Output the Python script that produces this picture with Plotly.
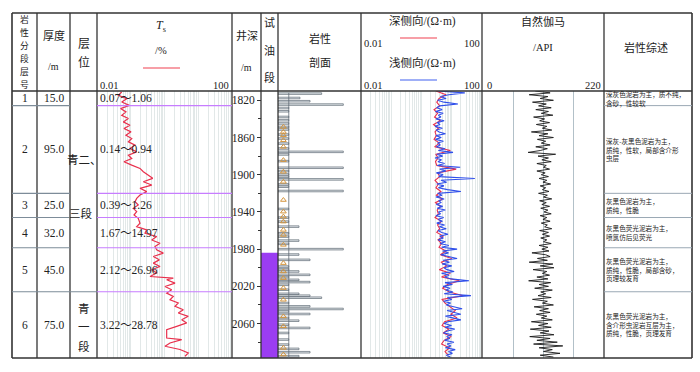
import plotly.graph_objects as go

W, H = 700, 372


def X(px):
    return px / W


def Y(py):
    return 1 - py / H


CJK = "Noto Sans CJK SC"
SERIF = "Liberation Serif, Noto Sans CJK SC"
DARK = "#333333"

# ---------------- data ----------------
layer_no = ["1", "2", "3", "4", "5", "6"]
thickness = ["15.0", "95.0", "25.0", "32.0", "45.0", "75.0"]
layer_bounds = [1810, 1825.7, 1920, 1946, 1978.5, 2025.8, 2097]
ts_range = ["0.07～1.06", "0.14～0.94", "0.39～1.26",
            "1.67～14.97", "2.12～26.96", "3.22～28.78"]
descriptions = [
    ["深灰色泥岩为主，质不纯，", "含砂，性较软"],
    ["深灰-灰黑色泥岩为主，", "质纯，性软，局部含介形", "虫层"],
    ["灰黑色泥岩为主，", "质纯，性脆"],
    ["灰黑色荧光泥岩为主，", "喷氯仿后见荧光"],
    ["灰黑色荧光泥岩为主，", "质纯，性脆，局部含砂，", "页理较发育"],
    ["灰黑色荧光泥岩为主，", "含介形虫泥岩互层为主，", "质纯，性脆，页理发育"],
]
depth_top, depth_bottom = 1810, 2097
depth_ticks = [1820, 1860, 1900, 1940, 1980, 2020, 2060]
test_top, test_bottom = 1984, 2097

# Ts (%)
ts_depth = [1811.1, 1814.6, 1818.2, 1821.8, 1825.4, 1828.9, 1832.5, 1836.1, 1839.6, 1843.2,
            1846.8, 1850.4, 1853.9, 1857.5, 1861.1, 1864.6, 1868.2, 1871.8, 1875.4, 1878.9,
            1882.5, 1886.1, 1889.7, 1893.2, 1896.8, 1900.4, 1903.9, 1907.5, 1911.1, 1914.6,
            1918.2, 1921.8, 1925.4, 1929.0, 1932.5, 1936.1, 1939.7, 1943.3, 1946.8, 1952.2,
            1955.8, 1959.3, 1962.9, 1966.5, 1970.1, 1973.6, 1977.2, 1980.8, 1984.3, 1987.9,
            1991.5, 1995.0, 1998.6, 2002.2, 2005.7, 2009.4, 2011.1, 2012.9, 2016.5, 2020.1,
            2023.6, 2027.2, 2030.8, 2034.4, 2037.9, 2041.5, 2045.1, 2048.6, 2052.2, 2055.8,
            2059.3, 2063.0, 2066.5, 2071.9, 2075.5, 2077.2, 2080.8, 2084.4, 2087.9, 2091.5,
            2095.1]
ts_value = [0.054, 0.043, 0.076, 0.054, 0.091, 0.050, 0.072, 0.054, 0.085, 0.060,
            0.095, 0.063, 0.102, 0.072, 0.107, 0.085, 0.134, 0.095, 0.150, 0.085,
            0.107, 0.063, 0.107, 0.188, 0.236, 0.331, 0.447, 0.236, 0.418, 0.188,
            0.297, 0.188, 0.150, 0.134, 0.167, 0.119, 0.150, 0.125, 0.167, 0.188,
            0.150, 0.297, 0.264, 0.587, 0.418, 0.736, 0.523, 0.587, 0.921, 0.466,
            0.701, 0.466, 0.736, 0.418, 0.587, 0.372, 1.82, 1.16, 2.05, 1.035,
            1.63, 1.16, 1.82, 1.455, 2.56, 2.05, 3.61, 2.56, 5.07, 3.23,
            4.55, 2.30, 1.16, 1.16, 1.16, 3.23, 1.455, 1.035, 2.88, 5.07,
            4.05]

# sampling depths of the logs (m)
log_depth = list(range(1810, 2098, 2))
deep_depth = list(range(1810, 2098, 4))

# shallow laterolog (ohm.m)
rs_shallow = [3.5, 27, 8, 4.2, 6.5, 3.4, 5.5, 16, 4.0, 3.2,
              4.8, 2.9, 5.2, 3.6, 4.4, 3.0, 5.6, 3.3, 4.1, 2.8,
              4.9, 3.1, 3.8, 6.2, 3.0, 4.5, 2.9, 5.3, 3.4, 4.2,
              3.1, 6.0, 3.6, 11, 3.2, 5.0, 2.8, 4.6, 3.5, 5.8,
              3.3, 19, 4.0, 6.4, 3.1, 5.2, 3.7, 58, 4.4, 6.8,
              3.2, 5.5, 3.6, 7.2, 20, 3.4, 4.8, 3.0, 5.6, 3.8,
              4.4, 3.1, 5.0, 3.3, 6.1, 3.7, 4.2, 3.0, 5.4, 3.6,
              4.9, 3.2, 5.8, 3.9, 6.6, 3.5, 4.7, 7.5, 4.0, 5.3,
              3.6, 6.2, 4.1, 8.0, 4.6, 15, 5.0, 7.8, 4.4, 9.0,
              15, 5.2, 8.4, 4.8, 10, 5.5, 7.0, 12, 4.6, 8.2,
              5.8, 9.5, 37, 6.0, 10.5, 5.2, 8.8, 6.4, 11, 5.6,
              43, 7.2, 10, 5.4, 9.2, 6.6, 12, 22, 7.0, 10.8,
              20, 6.2, 11.5, 20, 7.4, 5.6, 9.8, 6.0, 12.5, 7.2,
              5.4, 10.2, 6.8, 8.6, 5.8, 11.8, 7.0, 9.4, 6.2, 13,
              7.8, 10.5, 6.6, 9.0]

# deep laterolog (ohm.m)
rd_deep = [3.0, 6.5, 3.8, 3.2, 4.0, 2.6, 3.4, 2.7, 4.2, 2.5,
           3.6, 2.8, 3.1, 2.6, 3.9, 2.7, 9, 3.0, 3.5, 2.9,
           3.2, 14, 3.4, 4.0, 2.8, 3.6, 3.0, 4.4, 3.1, 5.0,
           2.9, 4.2, 3.3, 3.6, 2.8, 4.6, 3.4, 4.0, 3.2, 5.2,
           3.5, 4.6, 3.8, 6.5, 4.2, 10, 4.4, 6.8, 3.9, 9.0,
           4.6, 18, 7.2, 5.0, 8.4, 24, 4.8, 6.0, 8.8, 13,
           9.4, 15, 5.8, 4.8, 8.0, 5.2, 9.6, 5.6, 4.6, 8.4,
           6.0, 7.6]

# natural gamma (API)
gr_value = [95, 122, 84, 118, 104, 128, 90, 115, 101, 124,
            96, 119, 106, 127, 92, 112, 103, 121, 97, 116,
            108, 125, 88, 118, 102, 128, 99, 114, 106, 122,
            96, 117, 104, 82, 132, 100, 119, 107, 124, 98,
            115, 110, 121, 98, 113, 106, 119, 102, 116, 109,
            123, 104, 114, 108, 120, 101, 117, 110, 125, 103,
            115, 107, 121, 105, 118, 111, 124, 104, 116, 109,
            122, 106, 117, 112, 125, 103, 119, 108, 121, 105,
            116, 110, 124, 102, 118, 107, 120, 89, 114, 122,
            99, 117, 84, 127, 104, 129, 91, 116, 108, 121,
            98, 118, 83, 123, 102, 119, 94, 126, 105, 114,
            100, 124, 90, 117, 108, 128, 93, 119, 103, 122,
            97, 116, 106, 126, 88, 118, 101, 124, 86, 120,
            104, 129, 85, 122, 98, 135, 92, 145, 102, 126,
            110, 140, 104, 128]

# lithology column: interlayer bars (depth, relative length)
lith_depth = [1812.8, 1817.5, 1821.0, 1824.6, 1875.4, 1892.5, 1905.0, 1917.5,
              1955.8, 1970.8, 1980.0, 1985.8, 1991.5, 2004.0, 2007.6, 2013.0,
              2015.4, 2028.0, 2030.0, 2032.2, 2041.5, 2044.3, 2049.7, 2056.9,
              2064.7, 2087.2, 2090.8, 2095.0,
              1828.3, 1831.8, 1837.9, 1841.4, 1844.9, 1848.6, 1851.4, 1856.8,
              1861.1, 1866.5, 1871.8, 1878.2, 1885.4, 1896.1, 1899.7, 1902.2,
              1910.4, 1912.9, 1936.8, 1946.1, 1950.4, 1962.9, 1966.5, 1974.3,
              1998.7, 2001.5, 2010.0, 2018.3, 2023.6, 2037.9, 2046.9, 2054.0,
              2061.2, 2070.1, 2077.2, 2082.6]
lith_len = [0.526, 0.265, 0.386, 0.787, 0.787, 0.787, 0.787, 0.787,
            0.253, 0.253, 0.787, 0.253, 0.386, 0.253, 0.386, 0.253,
            0.386, 0.253, 0.386, 0.526, 0.386, 0.787, 0.386, 0.253,
            0.386, 0.253, 0.386, 0.253,
            0.13, 0.13, 0.13, 0.13, 0.13, 0.13, 0.13, 0.13,
            0.13, 0.13, 0.13, 0.13, 0.13, 0.13, 0.13, 0.13,
            0.13, 0.13, 0.13, 0.13, 0.13, 0.13, 0.13, 0.13,
            0.13, 0.13, 0.13, 0.13, 0.13, 0.13, 0.13, 0.13,
            0.13, 0.13, 0.13, 0.13]
# ostracod symbols in the lithology strip
ostracod_depth = [1848.6, 1854.0, 1857.5, 1862.9, 1870.0, 1884.3, 1896.8, 1907.6,
                  1927.2, 1939.7, 1945.0, 1950.4, 1959.3, 1964.7, 1975.4, 1995.0,
                  2004.0, 2011.1, 2021.8, 2034.4, 2052.3, 2063.0, 2086.1, 2093.3]

# ---------------- figure ----------------
fig = go.Figure()

fig.add_trace(go.Scatter(x=ts_value, y=ts_depth, xaxis="x", yaxis="y", mode="lines",
                         line=dict(color="#e8304c", width=1.2), hoverinfo="skip"))

fig.add_trace(go.Bar(x=[1], y=[(test_top + test_bottom) / 2], width=[test_bottom - test_top],
                     base=0, orientation="h", xaxis="x3", yaxis="y",
                     marker=dict(color="#9b3df2", line=dict(width=0)), hoverinfo="skip"))

fig.add_trace(go.Bar(x=lith_len, y=lith_depth, width=1.7, base=0, orientation="h",
                     xaxis="x4", yaxis="y",
                     marker=dict(color="#e4e8ec", line=dict(color="#5f6a74", width=0.7)),
                     hoverinfo="skip"))

fig.add_trace(go.Scatter(x=[0.065] * len(ostracod_depth), y=ostracod_depth, xaxis="x4", yaxis="y",
                         mode="markers",
                         marker=dict(symbol="triangle-up-open", size=5, color="#d4953e",
                                     line=dict(width=1, color="#d4953e")),
                         hoverinfo="skip"))

fig.add_trace(go.Scatter(x=rd_deep, y=deep_depth, xaxis="x5", yaxis="y", mode="lines",
                         line=dict(color="#e8304c", width=1.1), hoverinfo="skip"))
fig.add_trace(go.Scatter(x=rs_shallow, y=log_depth, xaxis="x5", yaxis="y", mode="lines",
                         line=dict(color="#2f4fea", width=1.1), hoverinfo="skip"))

fig.add_trace(go.Scatter(x=gr_value, y=log_depth, xaxis="x6", yaxis="y", mode="lines",
                         line=dict(color="#1a1a1a", width=0.9), hoverinfo="skip"))

hidden = dict(showticklabels=False, ticks="", showline=False, zeroline=False)
loggrid = dict(type="log", range=[-2, 2], dtick="D1", showgrid=True,
               gridcolor="#d5dede", gridwidth=0.7, **hidden)

fig.update_layout(
    width=W, height=H, margin=dict(l=0, r=0, t=0, b=0),
    paper_bgcolor="white", plot_bgcolor="white", showlegend=False,
    barmode="overlay", hovermode=False,
    xaxis=dict(domain=[X(97), X(232)], **loggrid),
    xaxis3=dict(domain=[X(261), X(278)], range=[0, 1], showgrid=False, **hidden),
    xaxis4=dict(domain=[X(278), X(361)], range=[0, 1], showgrid=False, **hidden),
    xaxis5=dict(domain=[X(361), X(482)], **loggrid),
    xaxis6=dict(domain=[X(483), X(604)], range=[0, 220], dtick=55, showgrid=True,
                gridcolor="#9fb0ba", gridwidth=0.8, **hidden),
    yaxis=dict(domain=[Y(358), Y(91)], range=[depth_bottom, depth_top],
               anchor="free", position=X(261), side="left",
               tickvals=depth_ticks, ticks="outside", ticklen=4, tickcolor=DARK,
               minor=dict(dtick=20, tick0=1820, ticks="outside", ticklen=3, tickcolor=DARK),
               showgrid=False, zeroline=False, showline=False,
               tickfont=dict(family=SERIF, size=11.5, color="#222")),
)

# ---------------- table frame ----------------
shapes = []


def pline(x0, y0, x1, y1, color=DARK, width=1.3):
    shapes.append(dict(type="line", xref="paper", yref="paper",
                       x0=X(x0), y0=Y(y0), x1=X(x1), y1=Y(y1),
                       line=dict(color=color, width=width)))


pline(12, 13, 692, 13, width=1.6)
pline(12, 358, 692, 358, width=1.6)
pline(12, 13, 12, 358, width=1.6)
pline(692, 13, 692, 358, width=1.6)
pline(12, 91, 692, 91, width=1.6)
for cx in [37, 70, 97, 232, 261, 278, 361, 482, 604]:
    pline(cx, 13, cx, 358, width=1.3)

# row separators
for k, b in enumerate(layer_bounds[1:-1]):
    right = X(97) if k == 4 else X(70)
    shapes.append(dict(type="line", xref="paper", yref="y", x0=X(12), x1=right, y0=b, y1=b,
                       line=dict(color="#7d8c99", width=1.1)))
    shapes.append(dict(type="line", xref="x domain", yref="y", x0=0, x1=1, y0=b, y1=b,
                       line=dict(color="#c77dff", width=1.1)))
    shapes.append(dict(type="line", xref="paper", yref="y", x0=X(604), x1=X(692), y0=b, y1=b,
                       line=dict(color="#9aa8b4", width=1.0)))

# lithology strip edge
shapes.append(dict(type="line", xref="x4", yref="y", x0=0.13, x1=0.13,
                   y0=depth_top + 2, y1=depth_bottom, line=dict(color="#5f6a74", width=0.8)))

# header legend samples
pline(143, 68, 180, 68, color="#f04050", width=1.2)
pline(400, 38, 437, 38, color="#f04050", width=1.2)
pline(400, 80, 437, 80, color="#4060f0", width=1.2)

# ---------------- text ----------------
ann = []


def txt(t, px, py, size=11, fam=CJK, xa="center", color="#222"):
    ann.append(dict(text=t, x=X(px), y=Y(py), xref="paper", yref="paper", showarrow=False,
                    xanchor=xa, yanchor="middle", borderpad=0,
                    font=dict(family=fam, size=size, color=color)))


for i, ch in enumerate("岩性分段层号"):
    txt(ch, 24.5, 20 + 12.9 * i, size=8.8)
txt("厚度", 53.5, 35)
txt("/m", 53.5, 66, size=10, fam=SERIF)
txt("层", 83.5, 42, size=12)
txt("位", 83.5, 62, size=12)
txt("<i>T</i><sub>s</sub>", 161, 26, size=12, fam=SERIF)
txt("/%", 161, 50, size=10.5, fam=SERIF)
txt("0.01", 99, 85, size=10.5, fam=SERIF, xa="left")
txt("100", 230, 85, size=10.5, fam=SERIF, xa="right")
txt("井深", 246.5, 35)
txt("/m", 246.5, 67, size=10, fam=SERIF)
for ch, py in zip("试油段", [22, 50, 77]):
    txt(ch, 269.5, py, size=11)
txt("岩性", 320, 38)
txt("剖面", 320, 62)
txt("深侧向/(Ω·m)", 422, 21, size=11.5, fam=SERIF)
txt("0.01", 363, 43, size=10.5, fam=SERIF, xa="left")
txt("100", 481, 43, size=10.5, fam=SERIF, xa="right")
txt("浅侧向/(Ω·m)", 422, 63, size=11.5, fam=SERIF)
txt("0.01", 363, 85, size=10.5, fam=SERIF, xa="left")
txt("100", 481, 85, size=10.5, fam=SERIF, xa="right")
txt("自然伽马", 543, 21)
txt("/API", 543, 47, size=10.5, fam=SERIF)
txt("0", 486, 85, size=10.5, fam=SERIF, xa="left")
txt("220", 602, 85, size=10.5, fam=SERIF, xa="right")
txt("岩性综述", 646, 47)

# layer position column
txt("青二、", 84, 159, size=11.5)
txt("三段", 80.5, 213, size=11.5)
for ch, py in zip("青一段", [308, 326, 346]):
    txt(ch, 83.5, py, size=11.5)

mids = [(a + b) / 2 for a, b in zip(layer_bounds[:-1], layer_bounds[1:])]
for k, m in enumerate(mids):
    base = dict(xref="paper", yref="y", y=m, showarrow=False, yanchor="middle", borderpad=0)
    ann.append(dict(base, text=layer_no[k], x=X(24.5), xanchor="center",
                    font=dict(family=SERIF, size=11.5, color="#222")))
    ann.append(dict(base, text=thickness[k], x=X(53.5), xanchor="center",
                    font=dict(family=SERIF, size=11.5, color="#222")))
    ann.append(dict(base, text=ts_range[k], x=X(99), xanchor="left",
                    font=dict(family=SERIF, size=11.5, color="#222")))
    ann.append(dict(base, text="<br>".join(descriptions[k]), x=X(605), xanchor="left",
                    align="left",
                    font=dict(family=CJK, size=6.6, color="#222")))

fig.update_layout(shapes=shapes, annotations=ann)
fig.write_html("out.html", config={"displayModeBar": False, "staticPlot": True},
               post_script="document.body.style.margin='0';document.body.style.padding='0';"
                           "document.documentElement.style.overflow='hidden';")
